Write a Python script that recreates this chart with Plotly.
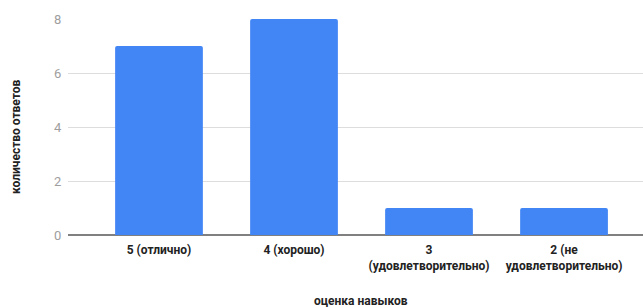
import plotly.graph_objects as go

categories = ["5 (отлично)", "4 (хорошо)", "3 (удовлетворительно)", "2 (не удовлетворительно)"]
tick_labels = ["5 (отлично)", "4 (хорошо)", "3<br>(удовлетворительно)", "2 (не<br>удовлетворительно)"]
counts = [7, 8, 1, 1]
y_ticks = [0, 2, 4, 6, 8]

W, H = 643, 308
L, R, T, B = 68, 0, 19, 73
pw, ph = W - L - R, H - T - B

def px_x(p):
    return (p - L) / pw

def px_y(p):
    return (H - B - p) / ph

fig = go.Figure(go.Bar(
    x=categories, y=counts,
    marker=dict(color="#4285F4", line=dict(width=0), cornerradius=2),
    hoverinfo="skip",
))

fig.update_layout(
    width=W, height=H,
    margin=dict(l=L, r=R, t=T, b=B),
    paper_bgcolor="white", plot_bgcolor="white",
    bargap=0.35,
    showlegend=False,
    font=dict(family="Roboto, Arial, sans-serif"),
    xaxis=dict(
        type="category",
        range=[-0.674, 3.585],
        tickmode="array", tickvals=categories, ticktext=tick_labels,
        tickfont=dict(size=12, color="#222222", weight="bold"),
        showgrid=False, zeroline=False, showline=False,
        ticks="outside", ticklen=4, tickcolor="rgba(0,0,0,0)",
        fixedrange=True,
    ),
    yaxis=dict(
        range=[0, 8],
        tickmode="array", tickvals=y_ticks,
        tickfont=dict(size=13, color="#9e9e9e"),
        showgrid=True, gridcolor="#dddddd", gridwidth=1,
        zeroline=True, zerolinecolor="#808080", zerolinewidth=1.5,
        showline=False,
        ticks="outside", ticklen=3, tickcolor="rgba(0,0,0,0)",
        fixedrange=True,
    ),
    annotations=[
        dict(text="количество ответов", xref="paper", yref="paper",
             x=px_x(16), y=px_y(137), xanchor="center", yanchor="middle",
             textangle=-90, showarrow=False,
             font=dict(size=12, color="#222222", weight="bold")),
        dict(text="оценка навыков", xref="paper", yref="paper",
             x=px_x(361), y=px_y(301), xanchor="center", yanchor="middle",
             showarrow=False,
             font=dict(size=12, color="#222222", weight="bold")),
    ],
)

fig.write_html(
    "out.html",
    config={"displayModeBar": False},
    post_script="document.body.style.margin='0';document.body.style.overflow='hidden';",
)
